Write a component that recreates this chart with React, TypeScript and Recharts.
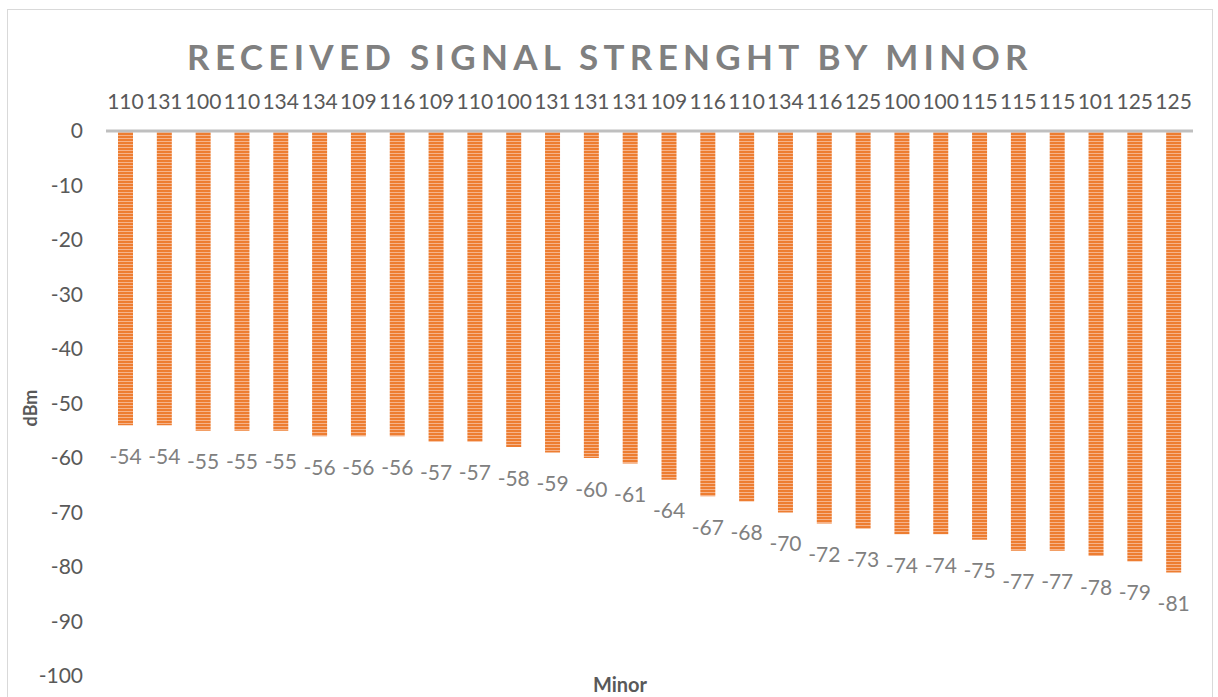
import { BarChart, Bar, XAxis, YAxis, LabelList } from 'recharts'

const minors = [
  '110', '131', '100', '110', '134', '134', '109', '116', '109', '110', '100', '131', '131', '131',
  '109', '116', '110', '134', '116', '125', '100', '100', '115', '115', '115', '101', '125', '125',
]

const rssi = [
  -54, -54, -55, -55, -55, -56, -56, -56, -57, -57, -58, -59, -60, -61,
  -64, -67, -68, -70, -72, -73, -74, -74, -75, -77, -77, -78, -79, -81,
]

const yTicks = [0, -10, -20, -30, -40, -50, -60, -70, -80, -90, -100]

const FONT = 'Lato, "Open Sans", sans-serif'

const data = minors.map((m, i) => ({ idx: i, minor: m, rssi: rssi[i] }))

function ValueLabel(props: any) {
  const { x, y, width, height, value } = props
  const bottom = Math.max(y, y + height)
  return (
    <text
      x={x + width / 2}
      y={bottom + 30}
      textAnchor="middle"
      dominantBaseline="central"
      fill="#808080"
      fontSize={21}
      fontFamily={FONT}
    >
      {value}
    </text>
  )
}

export default function App() {
  return (
    <div
      style={{
        position: 'absolute',
        left: 7,
        top: 9,
        width: 1204,
        height: 687,
        border: '1px solid #d9d9d9',
        borderBottom: 'none',
        background: '#fff',
        overflow: 'hidden',
        fontFamily: FONT,
      }}
    >
      <div
        style={{
          position: 'absolute',
          left: 0,
          right: 0,
          top: 26,
          textAlign: 'center',
          fontSize: 35,
          fontWeight: 700,
          letterSpacing: 5.3,
          color: '#808080',
          lineHeight: '40px',
        }}
      >
        RECEIVED SIGNAL STRENGHT BY MINOR
      </div>
      <div
        style={{
          position: 'absolute',
          left: 22 - 30,
          top: 398 - 10,
          width: 60,
          textAlign: 'center',
          transform: 'rotate(-90deg)',
          fontSize: 18,
          fontWeight: 700,
          color: '#595959',
          lineHeight: '20px',
        }}
      >
        dBm
      </div>
      <div
        style={{
          position: 'absolute',
          left: 562,
          top: 663,
          width: 100,
          textAlign: 'center',
          fontSize: 20,
          fontWeight: 700,
          color: '#595959',
          lineHeight: '22px',
        }}
      >
        Minor
      </div>
      <BarChart
        width={1204}
        height={687}
        data={data}
        margin={{ top: 81, right: 19, left: 0, bottom: 21 }}
        style={{ position: 'absolute', left: 0, top: 0 }}
      >
        <defs>
          <pattern id="stripes" width="6" height="3" patternUnits="userSpaceOnUse">
            <rect x="0" y="0" width="6" height="3" fill="#F6B38A" />
            <rect x="0" y="0" width="6" height="2" fill="#ED7D31" />
          </pattern>
        </defs>
        <XAxis
          dataKey="idx"
          orientation="top"
          height={40}
          tickFormatter={(i: number) => minors[i]}
          interval={0}
          axisLine={{ stroke: '#bfbfbf', strokeWidth: 3 }}
          tickLine={false}
          tickSize={0}
          tickMargin={22}
          tick={{ fill: '#595959', fontSize: 21, fontFamily: FONT }}
        />
        <YAxis
          domain={[-100, 0]}
          ticks={yTicks}
          width={98}
          axisLine={false}
          tickLine={false}
          tickSize={0}
          tickMargin={23}
          tick={{ fill: '#595959', fontSize: 21, fontFamily: FONT }}
        />
        <Bar dataKey="rssi" fill="url(#stripes)" barSize={15} isAnimationActive={false}>
          <LabelList dataKey="rssi" content={<ValueLabel />} />
        </Bar>
      </BarChart>
    </div>
  )
}
